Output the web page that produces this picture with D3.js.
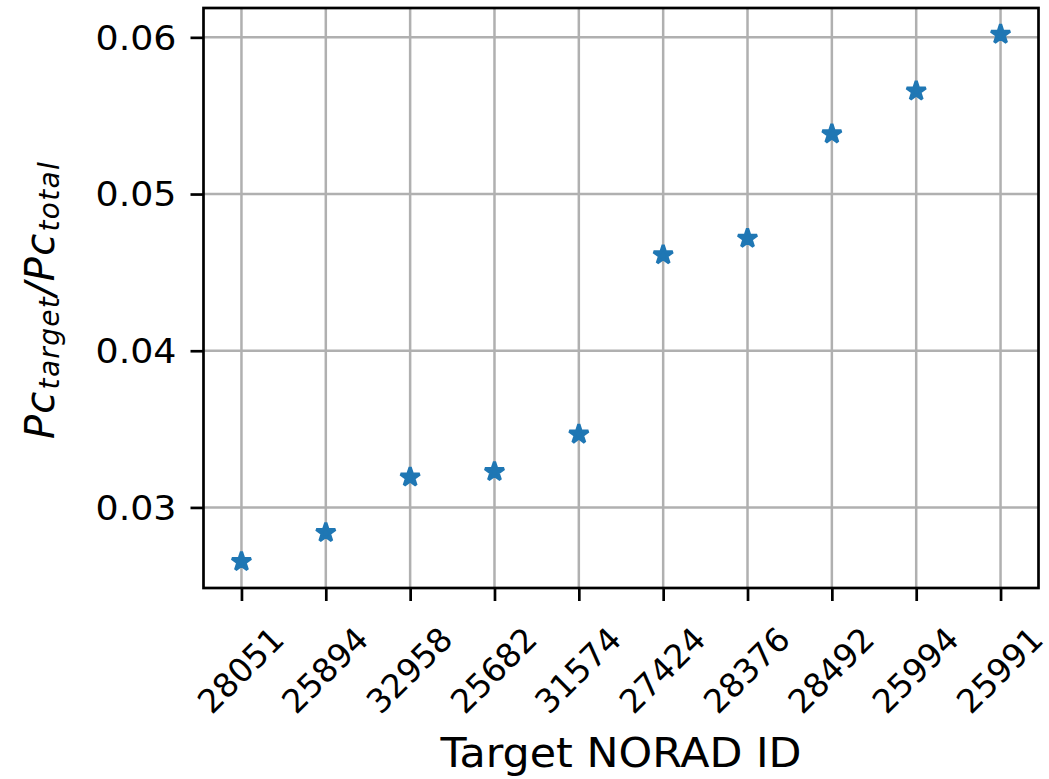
<!DOCTYPE html>
<html>
<head>
<meta charset="utf-8">
<script src="https://cdn.jsdelivr.net/npm/d3@7"></script>
<style>
  html, body { margin: 0; padding: 0; background: #fff; }
  svg { display: block; }
  text { font-family: "DejaVu Sans", sans-serif; fill: #000; }
</style>
</head>
<body>
<svg id="chart" width="1049" height="779"></svg>
<script>
// ---- data ----
const categories = ["28051", "25894", "32958", "25682", "31574", "27424", "28376", "28492", "25994", "25991"];
const ratios = [0.02654, 0.02839, 0.03193, 0.03228, 0.03467, 0.04611, 0.04717, 0.05383, 0.05657, 0.06019];
const yTicks = [0.03, 0.04, 0.05, 0.06];
const xLabel = "Target NORAD ID";

// ---- layout ----
const plot = { left: 203.5, right: 1038.5, top: 8, bottom: 588 };
const svg = d3.select("#chart");
const sx = 1.07; // horizontal text stretch seen in the reference

const x = d3.scalePoint().domain(categories).range([plot.left, plot.right]).padding(0.45);
const yMin = d3.min(ratios), yMax = d3.max(ratios), m = (yMax - yMin) * 0.05;
const y = d3.scaleLinear().domain([yMin - m, yMax + m]).range([plot.bottom, plot.top]);

const lw = 2.7, tickLen = 13, gridColor = "#b0b0b0";

// grid
const g = svg.append("g");
g.selectAll("line.vg").data(categories).join("line")
  .attr("x1", d => x(d)).attr("x2", d => x(d))
  .attr("y1", plot.top).attr("y2", plot.bottom)
  .attr("stroke", gridColor).attr("stroke-width", 2.5);
g.selectAll("line.hg").data(yTicks).join("line")
  .attr("x1", plot.left).attr("x2", plot.right)
  .attr("y1", d => y(d)).attr("y2", d => y(d))
  .attr("stroke", gridColor).attr("stroke-width", 2.5);

// axes (d3 axes, styled)
const xAxis = svg.append("g").attr("transform", `translate(0,${plot.bottom})`)
  .call(d3.axisBottom(x).tickSize(tickLen).tickPadding(0).tickFormat(""));
const yAxis = svg.append("g").attr("transform", `translate(${plot.left},0)`)
  .call(d3.axisLeft(y).tickValues(yTicks).tickSize(tickLen).tickPadding(0).tickFormat(""));
[xAxis, yAxis].forEach(a => {
  a.select(".domain").remove();
  a.selectAll(".tick line").attr("stroke", "#000").attr("stroke-width", lw);
});

// y tick labels
svg.append("g").selectAll("text").data(yTicks).join("text")
  .attr("transform", d => `translate(${plot.left - tickLen - 14},${y(d)}) scale(${sx},1)`)
  .attr("dy", "0.36em")
  .attr("text-anchor", "end")
  .attr("font-size", 34)
  .text(d => d3.format(".2f")(d));

// x tick labels (rotated 45°)
svg.append("g").selectAll("text").data(categories).join("text")
  .attr("transform", d => `translate(${x(d) - 1},${plot.bottom + 82}) rotate(-45)`)
  .attr("text-anchor", "middle")
  .attr("dy", "0.36em")
  .attr("font-size", 33)
  .text(d => d);

// spines
svg.append("rect")
  .attr("x", plot.left).attr("y", plot.top)
  .attr("width", plot.right - plot.left).attr("height", plot.bottom - plot.top)
  .attr("fill", "none").attr("stroke", "#000").attr("stroke-width", lw);

// points (stars)
const r = 10;
const star = d3.symbol().type(d3.symbolStar).size(r * r / 0.8908130915292852);
svg.append("g").selectAll("path").data(categories).join("path")
  .attr("d", star)
  .attr("transform", (d, i) => `translate(${x(d)},${y(ratios[i])})`)
  .attr("fill", "#1f77b4")
  .attr("stroke", "#1f77b4")
  .attr("stroke-width", 3.2)
  .attr("stroke-linejoin", "bevel");

// x axis label
svg.append("text")
  .attr("transform", `translate(${(plot.left + plot.right) / 2},767) scale(${sx},1)`)
  .attr("text-anchor", "middle")
  .attr("font-size", 40)
  .text(xLabel);

// y axis label (math-style)
const yl = svg.append("text")
  .attr("transform", `translate(54,${(plot.top + plot.bottom) / 2 + 2}) rotate(-90)`)
  .attr("text-anchor", "middle")
  .attr("font-size", 40)
  .attr("letter-spacing", 1.3)
  .attr("font-style", "italic");
yl.append("tspan").text("Pc");
yl.append("tspan").attr("font-size", 28).attr("dy", 5).attr("dx", 1).text("target");
yl.append("tspan").attr("dy", -5).text("/Pc");
yl.append("tspan").attr("font-size", 28).attr("dy", 5).attr("dx", 1).text("total");
</script>
</body>
</html>
